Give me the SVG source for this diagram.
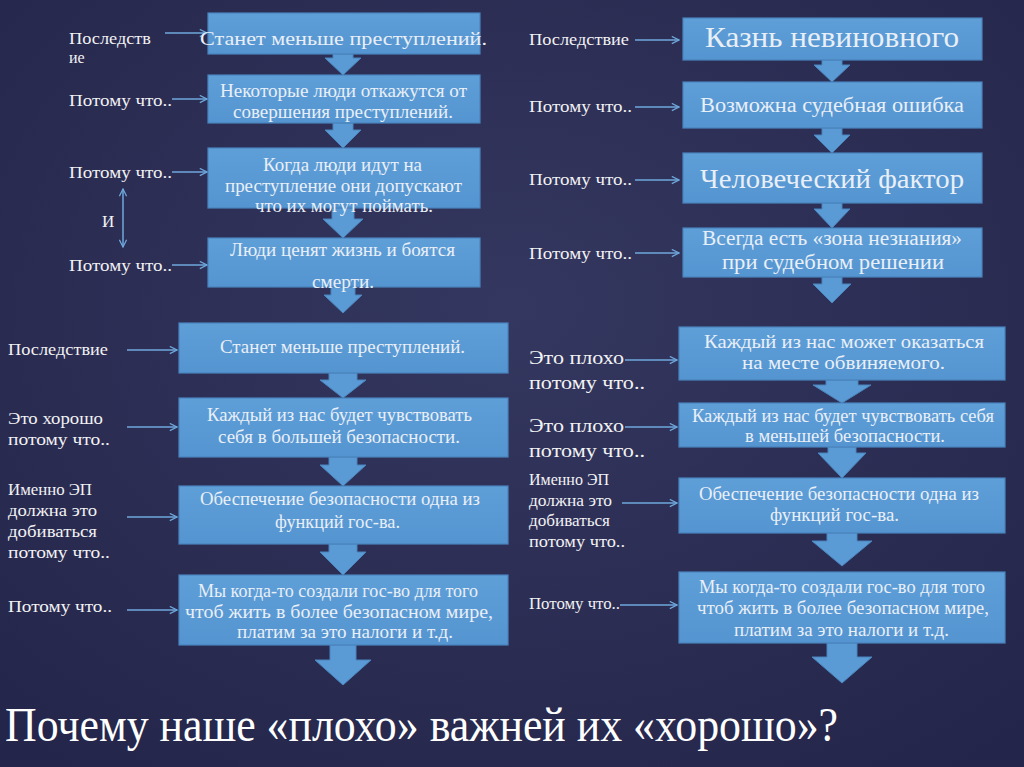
<svg xmlns="http://www.w3.org/2000/svg" width="1024" height="767" viewBox="0 0 1024 767">
<defs>
<radialGradient id="bg" cx="50%" cy="40%" r="75%">
<stop offset="0" stop-color="#34375f"/>
<stop offset="1" stop-color="#24254a"/>
</radialGradient>
<marker id="ah" viewBox="0 0 10 10" refX="9" refY="5" markerWidth="9" markerHeight="9" markerUnits="userSpaceOnUse" orient="auto-start-reverse">
<path d="M1,1 L9,5 L1,9" fill="none" stroke="#6fa8dc" stroke-width="1.4"/>
</marker>
<linearGradient id="boxg" x1="0" y1="0" x2="0" y2="1">
<stop offset="0" stop-color="#5f9fd8"/>
<stop offset="1" stop-color="#5494d0"/>
</linearGradient>
</defs>
<style>
.box{fill:url(#boxg);stroke:#4a84bd;stroke-width:1.2}
.blk{fill:#5b9bd5;stroke:#4a84bd;stroke-width:1}
.ln{stroke:#6fa8dc;stroke-width:1.5;fill:none;marker-end:url(#ah)}
.bt{font-family:"Liberation Serif",serif;fill:#e9eff7;font-size:19px}
.lb{font-family:"Liberation Serif",serif;fill:#f2f2f4;font-size:16px}
.lb2{font-family:"Liberation Serif",serif;fill:#f2f2f4;font-size:17px}
.lb3{font-family:"Liberation Serif",serif;fill:#f2f2f4;font-size:19px}
</style>
<rect x="0" y="0" width="1024" height="767" fill="url(#bg)"/>

<g id="connectors">
<polygon class="blk" points="333,54 353,54 353,58 361,58 343,75 325,58 333,58"/>
<polygon class="blk" points="333,123 353,123 353,130 361,130 343,148 325,130 333,130"/>
<polygon class="blk" points="332,208 354,208 354,219 363,219 343,238 323,219 332,219"/>
<polygon class="blk" points="331,287 355,287 355,295 362,295 343,313 324,295 331,295"/>
<polygon class="blk" points="329,373 357,373 357,380 366,380 343,398 320,380 329,380"/>
<polygon class="blk" points="329,457 357,457 357,465 366,465 343,486 320,465 329,465"/>
<polygon class="blk" points="329,544 357,544 357,552 366,552 343,575 320,552 329,552"/>
<polygon class="blk" points="330,645 356,645 356,660 371,660 343,685 315,660 330,660"/>
<polygon class="blk" points="822,60 842,60 842,65 850,65 832,82 814,65 822,65"/>
<polygon class="blk" points="822,128 842,128 842,135 850,135 832,153 814,135 822,135"/>
<polygon class="blk" points="822,203 842,203 842,209 850,209 832,228 814,209 822,209"/>
<polygon class="blk" points="822,277 842,277 842,284 851,284 832,303 813,284 822,284"/>
<polygon class="blk" points="826,380 858,380 858,385 871,385 842,403 813,385 826,385"/>
<polygon class="blk" points="828,447 856,447 856,453 866,453 842,478 818,453 828,453"/>
<polygon class="blk" points="827,533 857,533 857,541 872,541 842,566 812,541 827,541"/>
<polygon class="blk" points="827,643 857,643 857,657 872,657 842,683 812,657 827,657"/>

<line class="ln" x1="165" y1="33" x2="207" y2="33"/>
<line class="ln" x1="172" y1="99" x2="207" y2="99"/>
<line class="ln" x1="172" y1="172" x2="207" y2="172"/>
<line class="ln" x1="172" y1="265" x2="207" y2="265"/>
<line class="ln" x1="123" y1="189" x2="123" y2="247" style="marker-start:url(#ah)"/>
<line class="ln" x1="635" y1="40" x2="679" y2="40"/>
<line class="ln" x1="635" y1="107" x2="679" y2="107"/>
<line class="ln" x1="635" y1="180" x2="679" y2="180"/>
<line class="ln" x1="635" y1="253" x2="679" y2="253"/>
<line class="ln" x1="127" y1="350" x2="177" y2="350"/>
<line class="ln" x1="127" y1="427" x2="177" y2="427"/>
<line class="ln" x1="127" y1="517" x2="177" y2="517"/>
<line class="ln" x1="127" y1="610" x2="177" y2="610"/>
<line class="ln" x1="625" y1="360" x2="677" y2="360"/>
<line class="ln" x1="625" y1="427" x2="677" y2="427"/>
<line class="ln" x1="622" y1="503" x2="677" y2="503"/>
<line class="ln" x1="620" y1="605" x2="677" y2="605"/>
</g>

<g id="L1"><rect class="box" x="208" y="13" width="272" height="41"/>
<text class="bt" x="200" y="45" textLength="287" lengthAdjust="spacingAndGlyphs">Станет меньше преступлений.</text></g>
<g id="L2"><rect class="box" x="208" y="75" width="272" height="48"/>
<text class="bt" x="220" y="97" textLength="247" lengthAdjust="spacingAndGlyphs">Некоторые люди откажутся от</text>
<text class="bt" x="233" y="118" textLength="220" lengthAdjust="spacingAndGlyphs">совершения преступлений.</text></g>
<g id="L3"><rect class="box" x="208" y="148" width="272" height="60"/>
<text class="bt" x="263" y="171" textLength="159" lengthAdjust="spacingAndGlyphs">Когда люди идут на</text>
<text class="bt" x="225" y="192" textLength="237" lengthAdjust="spacingAndGlyphs">преступление они допускают</text>
<text class="bt" x="255" y="212" textLength="178" lengthAdjust="spacingAndGlyphs">что их могут поймать.</text></g>
<g id="L4"><rect class="box" x="208" y="238" width="272" height="49"/>
<text class="bt" x="230" y="256" textLength="225" lengthAdjust="spacingAndGlyphs">Люди ценят жизнь и боятся</text>
<text class="bt" x="312" y="288" textLength="62" lengthAdjust="spacingAndGlyphs">смерти.</text></g>

<g id="L5"><rect class="box" x="179" y="323" width="329" height="50"/>
<text class="bt" x="220" y="353" textLength="245" lengthAdjust="spacingAndGlyphs">Станет меньше преступлений.</text></g>
<g id="L6"><rect class="box" x="179" y="398" width="329" height="59"/>
<text class="bt" x="207" y="421" textLength="265" lengthAdjust="spacingAndGlyphs">Каждый из нас будет чувствовать</text>
<text class="bt" x="218" y="443" textLength="242" lengthAdjust="spacingAndGlyphs">себя в большей безопасности.</text></g>
<g id="L7"><rect class="box" x="179" y="486" width="329" height="58"/>
<text class="bt" x="200" y="505" textLength="280" lengthAdjust="spacingAndGlyphs">Обеспечение безопасности одна из</text>
<text class="bt" x="275" y="528" textLength="125" lengthAdjust="spacingAndGlyphs">функций гос-ва.</text></g>
<g id="L8"><rect class="box" x="179" y="575" width="329" height="70"/>
<text class="bt" x="198" y="597" textLength="280" lengthAdjust="spacingAndGlyphs">Мы когда-то создали гос-во для того</text>
<text class="bt" x="185" y="618" textLength="308" lengthAdjust="spacingAndGlyphs">чтоб жить в более безопасном мире,</text>
<text class="bt" x="237" y="638" textLength="216" lengthAdjust="spacingAndGlyphs">платим за это налоги и т.д.</text></g>

<g id="R1"><rect class="box" x="683" y="18" width="299" height="42"/>
<text class="bt" x="705" y="47" textLength="254" lengthAdjust="spacingAndGlyphs" style="font-size:29px">Казнь невиновного</text></g>
<g id="R2"><rect class="box" x="683" y="82" width="299" height="46"/>
<text class="bt" x="700" y="112" textLength="264" lengthAdjust="spacingAndGlyphs" style="font-size:20px">Возможна судебная ошибка</text></g>
<g id="R3"><rect class="box" x="683" y="153" width="299" height="50"/>
<text class="bt" x="700" y="188" textLength="264" lengthAdjust="spacingAndGlyphs" style="font-size:27px">Человеческий фактор</text></g>
<g id="R4"><rect class="box" x="683" y="228" width="299" height="49"/>
<text class="bt" x="702" y="245" textLength="260" lengthAdjust="spacingAndGlyphs" style="font-size:20px">Всегда есть «зона незнания»</text>
<text class="bt" x="722" y="269" textLength="222" lengthAdjust="spacingAndGlyphs" style="font-size:20px">при судебном решении</text></g>

<g id="R5"><rect class="box" x="679" y="327" width="326" height="53"/>
<text class="bt" x="704" y="348" textLength="280" lengthAdjust="spacingAndGlyphs">Каждый из нас может оказаться</text>
<text class="bt" x="742" y="369" textLength="203" lengthAdjust="spacingAndGlyphs">на месте обвиняемого.</text></g>
<g id="R6"><rect class="box" x="679" y="403" width="326" height="44"/>
<text class="bt" x="692" y="422" textLength="302" lengthAdjust="spacingAndGlyphs">Каждый из нас будет чувствовать себя</text>
<text class="bt" x="745" y="442" textLength="200" lengthAdjust="spacingAndGlyphs">в меньшей безопасности.</text></g>
<g id="R7"><rect class="box" x="679" y="478" width="326" height="55"/>
<text class="bt" x="699" y="500" textLength="280" lengthAdjust="spacingAndGlyphs">Обеспечение безопасности одна из</text>
<text class="bt" x="770" y="521" textLength="129" lengthAdjust="spacingAndGlyphs">функций гос-ва.</text></g>
<g id="R8"><rect class="box" x="679" y="572" width="326" height="71"/>
<text class="bt" x="699" y="593" textLength="286" lengthAdjust="spacingAndGlyphs">Мы когда-то создали гос-во для того</text>
<text class="bt" x="697" y="614" textLength="292" lengthAdjust="spacingAndGlyphs">чтоб жить в более безопасном мире,</text>
<text class="bt" x="734" y="636" textLength="215" lengthAdjust="spacingAndGlyphs">платим за это налоги и т.д.</text></g>

<g id="labels">
<text class="lb" x="69" y="44" textLength="82" lengthAdjust="spacingAndGlyphs">Последств</text>
<text class="lb" x="69" y="63">ие</text>
<text class="lb" x="69" y="106" textLength="103" lengthAdjust="spacingAndGlyphs">Потому что..</text>
<text class="lb" x="69" y="178" textLength="103" lengthAdjust="spacingAndGlyphs">Потому что..</text>
<text class="lb2" x="102" y="227">И</text>
<text class="lb" x="69" y="271" textLength="103" lengthAdjust="spacingAndGlyphs">Потому что..</text>

<text class="lb" x="529" y="45" textLength="100" lengthAdjust="spacingAndGlyphs">Последствие</text>
<text class="lb" x="529" y="112" textLength="103" lengthAdjust="spacingAndGlyphs">Потому что..</text>
<text class="lb" x="529" y="185" textLength="103" lengthAdjust="spacingAndGlyphs">Потому что..</text>
<text class="lb" x="529" y="259" textLength="103" lengthAdjust="spacingAndGlyphs">Потому что..</text>

<text class="lb2" x="8" y="355" textLength="100" lengthAdjust="spacingAndGlyphs">Последствие</text>
<text class="lb2" x="8" y="424" textLength="95" lengthAdjust="spacingAndGlyphs">Это хорошо</text>
<text class="lb2" x="8" y="445" textLength="102" lengthAdjust="spacingAndGlyphs">потому что..</text>
<text class="lb2" x="8" y="495" textLength="84" lengthAdjust="spacingAndGlyphs">Именно ЭП</text>
<text class="lb2" x="8" y="516" textLength="89" lengthAdjust="spacingAndGlyphs">должна это</text>
<text class="lb2" x="8" y="537" textLength="89" lengthAdjust="spacingAndGlyphs">добиваться</text>
<text class="lb2" x="8" y="558" textLength="102" lengthAdjust="spacingAndGlyphs">потому что..</text>
<text class="lb2" x="8" y="612" textLength="104" lengthAdjust="spacingAndGlyphs">Потому что..</text>

<text class="lb3" x="529" y="364" textLength="95" lengthAdjust="spacingAndGlyphs">Это плохо</text>
<text class="lb3" x="529" y="389" textLength="116" lengthAdjust="spacingAndGlyphs">потому что..</text>
<text class="lb3" x="529" y="432" textLength="95" lengthAdjust="spacingAndGlyphs">Это плохо</text>
<text class="lb3" x="529" y="457" textLength="116" lengthAdjust="spacingAndGlyphs">потому что..</text>
<text class="lb" x="529" y="485" textLength="80" lengthAdjust="spacingAndGlyphs">Именно ЭП</text>
<text class="lb" x="529" y="506" textLength="83" lengthAdjust="spacingAndGlyphs">должна это</text>
<text class="lb" x="529" y="526" textLength="81" lengthAdjust="spacingAndGlyphs">добиваться</text>
<text class="lb" x="529" y="547" textLength="96" lengthAdjust="spacingAndGlyphs">потому что..</text>
<text class="lb" x="529" y="609" textLength="91" lengthAdjust="spacingAndGlyphs">Потому что..</text>
</g>

<g id="title">
<text x="5" y="741" style="font-family:'Liberation Serif',serif;font-size:48px;fill:#ffffff" textLength="833" lengthAdjust="spacingAndGlyphs">Почему наше «плохо» важней их «хорошо»?</text>
</g>
</svg>
